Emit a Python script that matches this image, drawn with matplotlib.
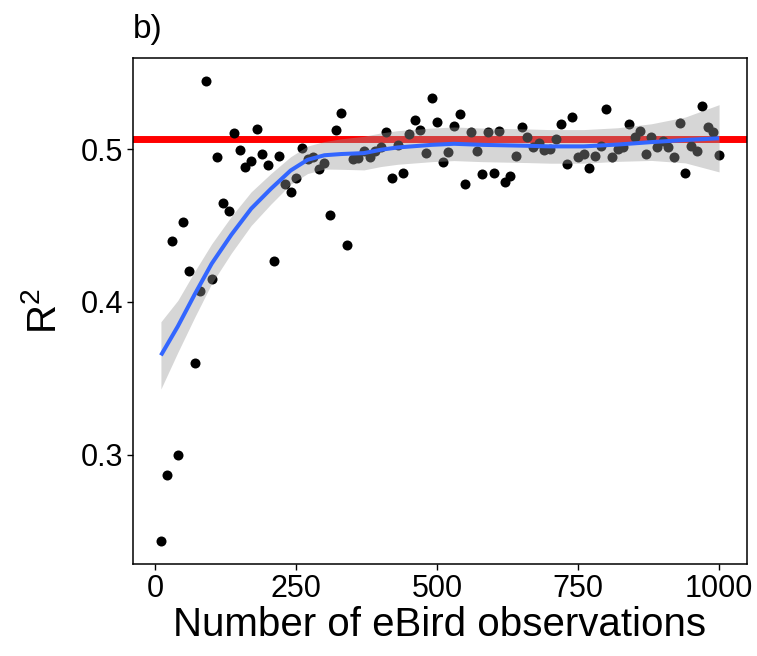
import numpy as np
import matplotlib
matplotlib.use("Agg")
import matplotlib.pyplot as plt

plt.rcParams['font.family'] = ['Liberation Sans', 'DejaVu Sans']
plt.rcParams['mathtext.fontset'] = 'custom'
plt.rcParams['mathtext.rm'] = 'Liberation Sans'

# --- data ---
n_obs = list(range(10, 1010, 10))
r2 = [0.2435, 0.2868, 0.4400, 0.2998, 0.4526, 0.4200, 0.3600, 0.4070, 0.5446, 0.4150,
      0.4950, 0.4646, 0.4596, 0.5104, 0.4996, 0.4880, 0.4920, 0.5130, 0.4970, 0.4896,
      0.4270, 0.4955, 0.4770, 0.4717, 0.4808, 0.5006, 0.4938, 0.4950, 0.4870, 0.4910,
      0.4570, 0.5128, 0.5234, 0.4373, 0.4935, 0.4942, 0.4985, 0.4946, 0.4985, 0.5013,
      0.5110, 0.4810, 0.5030, 0.4847, 0.5097, 0.5193, 0.5126, 0.4974, 0.5336, 0.5180,
      0.4914, 0.4979, 0.5154, 0.5230, 0.4775, 0.5110, 0.4990, 0.4840, 0.5115, 0.4842,
      0.5120, 0.4784, 0.4827, 0.4955, 0.5143, 0.5078, 0.5013, 0.5043, 0.4996, 0.5003,
      0.5065, 0.5167, 0.4905, 0.5208, 0.4948, 0.4968, 0.4875, 0.4957, 0.5018, 0.5262,
      0.4946, 0.4998, 0.5013, 0.5165, 0.5082, 0.5121, 0.4968, 0.5078, 0.5011, 0.5050,
      0.5013, 0.4946, 0.5169, 0.4842, 0.5022, 0.4985, 0.5282, 0.5143, 0.5110, 0.4964]

# smoother (loess) and its confidence band
fit_x = [10, 40, 70, 100, 135, 170, 205, 240, 270, 300, 330, 370,
         400, 430, 490, 530, 580, 660, 700, 760, 820, 880, 940, 1000]
fit_y = [0.365, 0.384, 0.405, 0.425, 0.444, 0.461, 0.474, 0.486, 0.493, 0.496, 0.4968, 0.4974,
         0.4996, 0.5011, 0.5028, 0.5035, 0.5028, 0.5022, 0.5018, 0.5018, 0.503, 0.5046, 0.506, 0.5071]
fit_se = [0.022, 0.017, 0.015, 0.013, 0.012, 0.011, 0.010, 0.009, 0.009, 0.009, 0.010, 0.011,
          0.011, 0.011, 0.011, 0.011, 0.011, 0.011, 0.011, 0.011, 0.011, 0.012, 0.015, 0.022]

ref_r2 = 0.5065

fig = plt.figure(figsize=(7.57, 6.56), dpi=100)
ax = fig.add_axes([133/757, 1 - 564/656, (747 - 133)/757, (564 - 58)/656])

ax.axhline(ref_r2, color='#FF0000', lw=5, zorder=1)
ax.scatter(n_obs, r2, s=52, color='black', linewidths=0, zorder=2)

fy = np.array(fit_y)
fse = np.array(fit_se)
ax.fill_between(fit_x, fy - fse, fy + fse, color='#999999', alpha=0.4, lw=0, zorder=3)
ax.plot(fit_x, fy, color='#3366FF', lw=2.9, zorder=4, solid_capstyle='butt')

xr = max(n_obs) - min(n_obs)
ax.set_xlim(min(n_obs) - 0.05 * xr, max(n_obs) + 0.05 * xr)
yr = max(r2) - min(r2)
ax.set_ylim(min(r2) - 0.05 * yr, max(r2) + 0.05 * yr)

ax.set_xticks([0, 250, 500, 750, 1000])
ax.set_yticks([0.3, 0.4, 0.5])
ax.set_yticklabels(['0.3', '0.4', '0.5'])
ax.tick_params(labelsize=22, length=4, width=1, colors='black', pad=3)

for s in ax.spines.values():
    s.set_color('black')
    s.set_linewidth(1.1)

ax.set_xlabel('Number of eBird observations', fontsize=29, labelpad=2)
ax.set_ylabel(r'$\mathregular{R^2}$', fontsize=29, labelpad=12)

fig.text(133/757, 1 - 38/656, 'b)', fontsize=24, ha='left', va='baseline')

fig.savefig('out.png', dpi=100)
